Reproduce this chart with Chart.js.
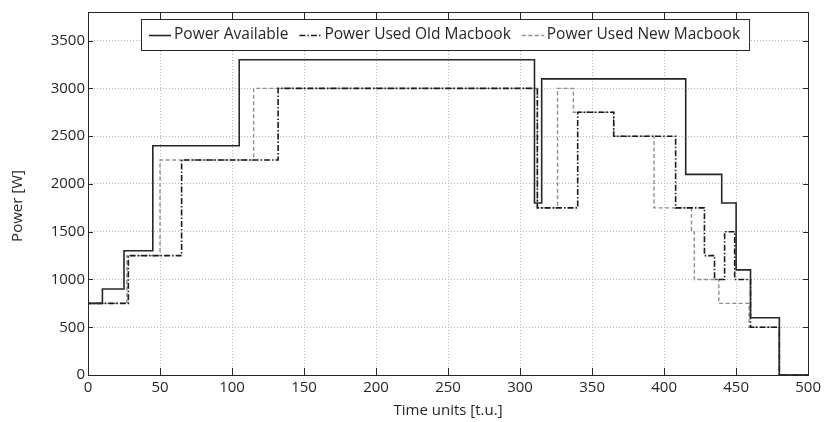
<!DOCTYPE html>
<html><head><meta charset="utf-8">
<script src="https://cdn.jsdelivr.net/npm/chart.js@4/dist/chart.umd.min.js"></script>
<style>html,body{margin:0;padding:0;background:#fff}#wrap{width:825px;height:422px}</style>
</head><body><div id="wrap"><canvas id="c" width="825" height="422"></canvas></div>
<script>
const seriesNames = ['Power Available', 'Power Used Old Macbook', 'Power Used New Macbook'];
const availTime  = [0, 0, 10, 25, 45, 105, 310, 315, 415, 440, 450, 460, 480, 500];
const availPower = [0, 750, 900, 1300, 2400, 3300, 1800, 3100, 2100, 1800, 1100, 600, 0, 0];
const oldTime  = [0, 0, 28, 65, 132, 312, 340, 365, 408, 428, 435, 442, 449, 460, 480, 500];
const oldPower = [0, 750, 1250, 2250, 3000, 1750, 2750, 2500, 1750, 1250, 1000, 1500, 1000, 500, 0, 0];
const newTime  = [0, 0, 27, 50, 115, 312, 326, 337, 365, 393, 419, 421, 438, 459, 480, 500];
const newPower = [0, 750, 1250, 2250, 3000, 1750, 3000, 2750, 2500, 1750, 1500, 1000, 750, 500, 0, 0];
const xTickValues = [0, 50, 100, 150, 200, 250, 300, 350, 400, 450, 500];
const yTickValues = [0, 500, 1000, 1500, 2000, 2500, 3000, 3500];
const xTitle = 'Time units [t.u.]';
const yTitle = 'Power [W]';

const FONT = "'Open Sans', 'Noto Sans', sans-serif";
const TXT = '#262626';
const zip = (xs, ys) => xs.map((x, i) => ({x: x, y: ys[i]}));

const styles = [
  {color: '#262626', width: 1.6, dash: []},
  {color: '#1a1a1a', width: 1.6, dash: [6, 2, 1.5, 2]},
  {color: '#8f8f8f', width: 1.4, dash: [4, 2.5]}
];
const seriesData = [zip(availTime, availPower), zip(oldTime, oldPower), zip(newTime, newPower)];

const datasets = seriesData.map((d, i) => ({
  label: seriesNames[i],
  data: d,
  stepped: true,
  borderColor: styles[i].color,
  borderWidth: styles[i].width,
  borderDash: styles[i].dash,
  pointRadius: 0,
  fill: false,
  tension: 0
}));

const framePlugin = {
  id: 'frame',
  afterDraw(chart) {
    const ctx = chart.ctx;
    const a = chart.chartArea;
    const xs = chart.scales.x, ys = chart.scales.y;
    ctx.save();
    ctx.strokeStyle = TXT;
    ctx.lineWidth = 1;
    ctx.setLineDash([]);
    ctx.strokeRect(Math.round(a.left) + 0.5, Math.round(a.top) + 0.5, Math.round(a.right - a.left), Math.round(a.bottom - a.top));
    ctx.beginPath();
    xTickValues.forEach(v => {
      const px = Math.round(xs.getPixelForValue(v)) + 0.5;
      ctx.moveTo(px, a.bottom); ctx.lineTo(px, a.bottom - 7);
      ctx.moveTo(px, a.top); ctx.lineTo(px, a.top + 7);
    });
    yTickValues.forEach(v => {
      const py = Math.round(ys.getPixelForValue(v)) + 0.5;
      ctx.moveTo(a.left, py); ctx.lineTo(a.left + 5, py);
      ctx.moveTo(a.right, py); ctx.lineTo(a.right - 5, py);
    });
    ctx.stroke();

    // y title
    ctx.fillStyle = TXT;
    ctx.font = '15px ' + FONT;
    ctx.textAlign = 'center';
    ctx.textBaseline = 'middle';
    ctx.save();
    ctx.translate(18, 206);
    ctx.rotate(-Math.PI / 2);
    ctx.fillText(yTitle, 0, 0);
    ctx.restore();

    // legend
    const bx = 141, by = 19, bh = 31;
    ctx.font = '15.5px ' + FONT;
    ctx.textAlign = 'left';
    let x = bx + 8;
    const items = chart.data.datasets.map((ds, i) => ({label: ds.label, st: styles[i]}));
    let total = 8;
    items.forEach((it, i) => { total += 22 + 3 + ctx.measureText(it.label).width + (i < items.length - 1 ? 11 : 9); });
    ctx.fillStyle = '#fff';
    ctx.fillRect(bx, by, total, bh);
    ctx.strokeStyle = TXT;
    ctx.lineWidth = 1;
    ctx.setLineDash([]);
    ctx.strokeRect(bx + 0.5, by + 0.5, total, bh);
    const cy = by + bh / 2 + 0.5;
    items.forEach((it, i) => {
      ctx.beginPath();
      ctx.strokeStyle = it.st.color;
      ctx.lineWidth = it.st.width;
      ctx.setLineDash(it.st.dash);
      ctx.moveTo(x, Math.round(cy) + 0.5); ctx.lineTo(x + 22, Math.round(cy) + 0.5);
      ctx.stroke();
      ctx.setLineDash([]);
      x += 25;
      ctx.fillStyle = TXT;
      ctx.fillText(it.label, x, cy);
      x += ctx.measureText(it.label).width + 11;
    });
    ctx.restore();
  }
};

new Chart(document.getElementById('c'), {
  type: 'line',
  data: {datasets: datasets},
  options: {
    responsive: false,
    animation: false,
    devicePixelRatio: 1,
    layout: {padding: {left: 0, right: 14, top: 7, bottom: 0}},
    plugins: {legend: {display: false}, tooltip: {enabled: false}},
    scales: {
      x: {
        type: 'linear', min: 0, max: 500,
        afterBuildTicks: s => { s.ticks = xTickValues.map(v => ({value: v})); },
        afterFit: s => { s.height = 47; },
        ticks: {font: {family: FONT, size: 15}, color: TXT, padding: 4, maxRotation: 0, callback: v => String(v)},
        grid: {color: '#b5b5b5', lineWidth: 1, drawTicks: false},
        border: {display: false, dash: [1, 2]},
        title: {display: true, text: xTitle, font: {family: FONT, size: 15}, color: TXT, padding: {top: 0, bottom: 2}}
      },
      y: {
        type: 'linear', min: 0, max: 3800,
        afterBuildTicks: s => { s.ticks = yTickValues.map(v => ({value: v})); },
        afterFit: s => { s.width = 88; },
        ticks: {font: {family: FONT, size: 15}, color: TXT, padding: 3, callback: v => String(v)},
        grid: {color: '#b5b5b5', lineWidth: 1, drawTicks: false},
        border: {display: false, dash: [1, 2]},
        title: {display: false}
      }
    }
  },
  plugins: [framePlugin]
});
</script></body></html>
